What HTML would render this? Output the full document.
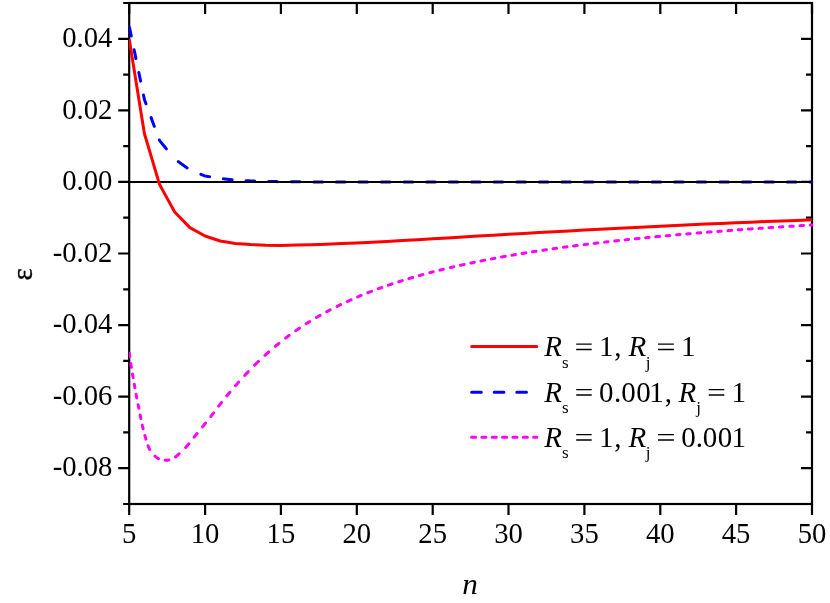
<!DOCTYPE html>
<html><head><meta charset="utf-8"><title>chart</title>
<style>
html,body{margin:0;padding:0;background:#fff;}
body{width:830px;height:603px;overflow:hidden;}
svg{display:block;will-change:transform;}
text{font-family:"Liberation Serif",serif;font-size:28.7px;fill:#000;}
</style></head><body>
<svg width="830" height="603" viewBox="0 0 830 603">
<rect width="830" height="603" fill="#fff"/>
<clipPath id="c"><rect x="128.89999999999998" y="3.0" width="684.3" height="501.0"/></clipPath>
<rect x="129.2" y="3.0" width="682.8" height="501.0" fill="none" stroke="#000" stroke-width="2.2"/>
<path d="M129.2,3.0 v11 M129.2,504.0 v11 M205.1,3.0 v11 M205.1,504.0 v11 M280.9,3.0 v11 M280.9,504.0 v11 M356.8,3.0 v11 M356.8,504.0 v11 M432.7,3.0 v11 M432.7,504.0 v11 M508.5,3.0 v11 M508.5,504.0 v11 M584.4,3.0 v11 M584.4,504.0 v11 M660.3,3.0 v11 M660.3,504.0 v11 M736.1,3.0 v11 M736.1,504.0 v11 M812.0,3.0 v11 M812.0,504.0 v11 M129.2,3.0 h-6 M812.0,3.0 h-6 M129.2,38.8 h-11 M812.0,38.8 h-11 M129.2,74.6 h-6 M812.0,74.6 h-6 M129.2,110.4 h-11 M812.0,110.4 h-11 M129.2,146.1 h-6 M812.0,146.1 h-6 M129.2,181.9 h-11 M812.0,181.9 h-11 M129.2,217.7 h-6 M812.0,217.7 h-6 M129.2,253.5 h-11 M812.0,253.5 h-11 M129.2,289.3 h-6 M812.0,289.3 h-6 M129.2,325.1 h-11 M812.0,325.1 h-11 M129.2,360.9 h-6 M812.0,360.9 h-6 M129.2,396.6 h-11 M812.0,396.6 h-11 M129.2,432.4 h-6 M812.0,432.4 h-6 M129.2,468.2 h-11 M812.0,468.2 h-11 M129.2,504.0 h-6 M812.0,504.0 h-6" stroke="#000" stroke-width="2.2" fill="none"/>
<g clip-path="url(#c)">
<path d="M129.45,27.23 L129.50,27.47 L129.71,28.45 L129.91,29.43 L130.11,30.41 L130.31,31.39 L130.52,32.37 L130.72,33.35 L130.92,34.33 L131.13,35.31 L131.28,36.05 M134.11,49.77 L134.17,50.01 L134.37,50.99 L134.57,51.97 L134.77,52.95 L134.98,53.93 L135.18,54.91 L135.38,55.89 L135.58,56.87 L135.79,57.85 L135.94,58.59 M138.83,72.55 L138.88,72.80 L139.08,73.78 L139.28,74.75 L139.49,75.73 L139.69,76.72 L139.89,77.69 L140.09,78.67 L140.30,79.66 L140.50,80.63 L140.60,81.12 M143.49,95.09 L143.54,95.33 L143.74,96.31 L143.94,97.30 L144.15,98.28 L144.35,99.25 L144.66,100.21 L145.01,101.15 L145.35,102.09 L145.70,103.03 L145.96,103.74 M151.08,117.64 L151.17,117.88 L151.52,118.82 L151.86,119.76 L152.21,120.71 L152.56,121.65 L152.90,122.59 L153.25,123.53 L153.60,124.48 L153.95,125.42 L154.29,126.36 M159.33,140.03 L159.41,140.26 L159.98,141.08 L160.62,141.86 L161.26,142.64 L161.90,143.42 L162.54,144.20 L163.18,144.98 L163.82,145.76 L164.46,146.54 L165.10,147.32 L165.74,148.09 L166.38,148.87 M178.35,161.64 L178.55,161.79 L179.36,162.37 L180.17,162.96 L180.98,163.55 L181.79,164.13 L182.60,164.72 L183.41,165.31 L184.23,165.89 L185.04,166.48 L185.85,167.07 L186.66,167.65 L187.06,167.95 M200.89,174.34 L201.12,174.43 L202.06,174.80 L203.00,175.17 L203.93,175.54 L204.87,175.91 L205.84,176.12 L206.83,176.29 L207.82,176.45 L208.81,176.61 L209.56,176.74 M223.44,178.84 L223.69,178.87 L224.69,178.97 L225.68,179.08 L226.68,179.18 L227.68,179.29 L228.67,179.39 L229.67,179.50 L230.67,179.60 L231.66,179.71 L232.16,179.76 M246.04,180.66 L246.29,180.67 L247.31,180.73 L248.32,180.78 L249.33,180.83 L250.35,180.89 L251.36,180.93 L252.37,180.96 L253.39,180.99 L254.40,181.03 L254.65,181.03 M268.57,181.46 L268.82,181.46 L269.83,181.48 L270.83,181.50 L271.84,181.52 L272.85,181.54 L273.85,181.56 L274.86,181.58 L275.87,181.60 L276.87,181.62 L277.38,181.63 M291.18,181.77 L291.44,181.77 L292.44,181.78 L293.44,181.78 L294.44,181.79 L295.45,181.80 L296.45,181.80 L297.45,181.81 L298.46,181.82 L299.46,181.82 L299.96,181.83 M313.75,181.90 L314.00,181.90 L315.00,181.90 L316.00,181.90 L317.00,181.90 L318.00,181.90 L319.00,181.91 L320.00,181.91 L321.00,181.91 L322.00,181.91 L322.50,181.91 M336.25,181.92 L336.50,181.92 L337.50,181.92 L338.50,181.92 L339.50,181.92 L340.50,181.92 L341.50,181.92 L342.50,181.92 L343.50,181.92 L344.50,181.92 L345.00,181.92 M358.75,181.93 L359.00,181.93 L360.00,181.93 L361.00,181.93 L362.00,181.93 L363.00,181.93 L364.00,181.93 L365.00,181.93 L366.00,181.93 L367.00,181.93 L367.50,181.93 M381.25,181.93 L381.50,181.93 L382.50,181.93 L383.50,181.93 L384.50,181.93 L385.50,181.93 L386.50,181.93 L387.50,181.93 L388.50,181.93 L389.50,181.93 L390.00,181.93 M404.00,181.93 L404.25,181.93 L405.25,181.93 L406.25,181.93 L407.25,181.93 L408.25,181.93 L409.25,181.93 L410.25,181.93 L411.25,181.93 L412.25,181.93 L412.75,181.93 M426.50,181.93 L426.75,181.93 L427.75,181.93 L428.75,181.93 L429.75,181.93 L430.75,181.93 L431.75,181.93 L432.75,181.93 L433.75,181.93 L434.75,181.93 L435.25,181.93 M449.00,181.93 L449.25,181.93 L450.25,181.93 L451.25,181.93 L452.25,181.93 L453.25,181.93 L454.25,181.93 L455.25,181.93 L456.25,181.93 L457.25,181.93 L457.75,181.93 M471.50,181.93 L471.75,181.93 L472.75,181.93 L473.75,181.93 L474.75,181.93 L475.75,181.93 L476.75,181.93 L477.75,181.93 L478.75,181.93 L479.75,181.93 L480.25,181.93 M494.00,181.93 L494.25,181.93 L495.25,181.93 L496.25,181.93 L497.25,181.93 L498.25,181.93 L499.25,181.93 L500.25,181.93 L501.25,181.93 L502.25,181.93 L502.75,181.93 M516.75,181.93 L517.00,181.93 L518.00,181.93 L519.00,181.93 L520.00,181.93 L521.00,181.93 L522.00,181.93 L523.00,181.93 L524.00,181.93 L525.00,181.93 L525.50,181.93 M539.25,181.93 L539.50,181.93 L540.50,181.93 L541.50,181.93 L542.50,181.93 L543.50,181.93 L544.50,181.93 L545.50,181.93 L546.50,181.93 L547.50,181.93 L548.00,181.93 M561.75,181.93 L562.00,181.93 L563.00,181.93 L564.00,181.93 L565.00,181.93 L566.00,181.93 L567.00,181.93 L568.00,181.93 L569.00,181.93 L570.00,181.93 L570.50,181.93 M584.25,181.93 L584.50,181.93 L585.50,181.93 L586.50,181.93 L587.50,181.93 L588.50,181.93 L589.50,181.93 L590.50,181.93 L591.50,181.93 L592.50,181.93 L593.00,181.93 M607.00,181.93 L607.25,181.93 L608.25,181.93 L609.25,181.93 L610.25,181.93 L611.25,181.93 L612.25,181.93 L613.25,181.93 L614.25,181.93 L615.25,181.93 L615.75,181.93 M629.50,181.93 L629.75,181.93 L630.75,181.93 L631.75,181.93 L632.75,181.93 L633.75,181.93 L634.75,181.93 L635.75,181.93 L636.75,181.93 L637.75,181.93 L638.25,181.93 M652.00,181.93 L652.25,181.93 L653.25,181.93 L654.25,181.93 L655.25,181.93 L656.25,181.93 L657.25,181.93 L658.25,181.93 L659.25,181.93 L660.25,181.93 L660.75,181.93 M674.50,181.93 L674.75,181.93 L675.75,181.93 L676.75,181.93 L677.75,181.93 L678.75,181.93 L679.75,181.93 L680.75,181.93 L681.75,181.93 L682.75,181.93 L683.25,181.93 M697.00,181.93 L697.25,181.93 L698.25,181.93 L699.25,181.93 L700.25,181.93 L701.25,181.93 L702.25,181.93 L703.25,181.93 L704.25,181.93 L705.25,181.93 L705.75,181.93 M719.75,181.93 L720.00,181.93 L721.00,181.93 L722.00,181.93 L723.00,181.93 L724.00,181.93 L725.00,181.93 L726.00,181.93 L727.00,181.93 L728.00,181.93 L728.50,181.93 M742.25,181.93 L742.50,181.93 L743.50,181.93 L744.50,181.93 L745.50,181.93 L746.50,181.93 L747.50,181.93 L748.50,181.93 L749.50,181.93 L750.50,181.93 L751.00,181.93 M764.75,181.93 L765.00,181.93 L766.00,181.93 L767.00,181.93 L768.00,181.93 L769.00,181.93 L770.00,181.93 L771.00,181.93 L772.00,181.93 L773.00,181.93 L773.50,181.93 M787.25,181.93 L787.50,181.93 L788.50,181.93 L789.50,181.93 L790.50,181.93 L791.50,181.93 L792.50,181.93 L793.50,181.93 L794.50,181.93 L795.50,181.93 L796.00,181.93 M810.00,181.93 L810.25,181.93 L811.25,181.93 L812.00,181.93 " fill="none" stroke="#0000ff" stroke-width="3" stroke-linecap="round" stroke-linejoin="round"/>
</g>
<path d="M129.2,181.9 H812.0" stroke="#000" stroke-width="2" fill="none"/>
<g clip-path="url(#c)">
<path d="M129.35,353.14 L129.39,353.40 L129.54,354.57 L129.68,355.61 L129.83,356.74 M130.78,363.54 L130.82,363.84 L131.00,365.00 L131.18,366.13 L131.36,367.26 M132.51,373.93 L132.56,374.22 L132.77,375.41 L132.98,376.60 L133.14,377.50 M134.28,384.18 L134.32,384.43 L134.49,385.43 L134.66,386.44 L134.84,387.45 L134.88,387.70 M136.05,394.25 L136.09,394.50 L136.28,395.50 L136.48,396.50 L136.67,397.50 L136.77,398.00 M138.14,404.75 L138.19,405.00 L138.39,406.00 L138.60,407.00 L138.80,408.00 L138.85,408.25 M140.17,415.05 L140.22,415.30 L140.41,416.31 L140.61,417.32 L140.81,418.32 L140.86,418.57 M142.28,425.21 L142.35,425.51 L142.63,426.72 L142.91,427.92 L143.13,428.81 M144.87,435.51 L144.95,435.79 L145.27,436.91 L145.60,438.00 L145.93,439.09 M148.11,445.70 L148.20,445.95 L148.58,446.92 L149.03,448.01 L149.57,449.18 L149.72,449.45 M155.04,456.16 L155.28,456.38 L156.22,457.18 L157.10,457.82 L158.53,458.59 M165.20,460.18 L165.67,460.20 L167.51,460.14 L168.86,459.96 M175.52,456.94 L175.75,456.76 L176.80,455.91 L177.62,455.21 L178.54,454.39 L179.16,453.82 M185.64,447.46 L185.84,447.25 L186.62,446.41 L187.36,445.60 L188.07,444.79 L188.75,443.97 L188.92,443.77 M194.13,437.09 L194.30,436.87 L195.00,436.00 L195.72,435.12 L196.45,434.21 L197.02,433.53 M202.55,426.79 L202.73,426.56 L203.46,425.66 L204.18,424.78 L204.87,423.92 L205.56,423.07 M210.84,416.48 L211.01,416.27 L211.67,415.43 L212.33,414.57 L213.00,413.70 L213.67,412.82 M218.67,406.14 L218.83,405.92 L219.50,405.05 L220.17,404.19 L220.83,403.34 L221.49,402.49 M226.78,395.87 L226.96,395.66 L227.65,394.82 L228.36,393.97 L229.08,393.11 L229.82,392.24 M235.51,385.69 L235.69,385.49 L236.41,384.68 L237.10,383.89 L237.78,383.12 L238.49,382.31 L238.71,382.07 M244.73,375.42 L244.94,375.19 L245.78,374.29 L246.62,373.39 L247.47,372.50 L248.31,371.61 M254.63,365.15 L254.84,364.94 L255.69,364.11 L256.53,363.28 L257.37,362.46 L258.22,361.64 L258.43,361.44 M264.96,355.32 L265.17,355.13 L266.01,354.36 L266.86,353.60 L267.70,352.85 L268.54,352.10 L268.75,351.92 M275.29,346.32 L275.50,346.15 L276.34,345.45 L277.18,344.76 L278.03,344.07 L278.87,343.39 M285.61,338.11 L285.82,337.95 L286.67,337.31 L287.51,336.68 L288.35,336.05 L289.19,335.42 M295.73,330.74 L295.94,330.60 L296.78,330.01 L297.62,329.43 L298.47,328.86 L299.31,328.28 L299.52,328.14 M306.16,323.79 L306.48,323.59 L307.74,322.79 L309.00,322.00 L309.64,321.60 M316.59,317.42 L316.91,317.24 L318.17,316.50 L319.44,315.78 L320.07,315.42 M326.71,311.74 L327.02,311.57 L328.29,310.90 L329.55,310.23 L330.18,309.90 M337.14,306.35 L337.45,306.19 L338.72,305.57 L339.98,304.95 L340.62,304.65 M347.25,301.52 L347.57,301.38 L348.83,300.80 L350.10,300.23 L351.05,299.80 M357.69,296.91 L358.00,296.78 L359.27,296.24 L360.53,295.71 L361.16,295.45 M367.80,292.76 L368.12,292.64 L369.38,292.14 L370.65,291.65 L371.59,291.29 M378.23,288.79 L378.55,288.67 L379.81,288.21 L381.08,287.75 L381.71,287.53 M388.35,285.20 L388.66,285.09 L389.93,284.66 L391.19,284.23 L392.14,283.91 M398.78,281.74 L399.10,281.63 L400.36,281.23 L401.62,280.83 L402.26,280.63 M408.90,278.60 L409.21,278.50 L410.48,278.12 L411.74,277.75 L412.69,277.47 M419.33,275.56 L419.64,275.47 L420.91,275.12 L422.17,274.76 L422.80,274.59 M429.76,272.71 L430.07,272.63 L431.34,272.29 L432.60,271.96 L433.24,271.80 M439.87,270.11 L440.19,270.03 L441.45,269.71 L442.72,269.40 L443.35,269.25 M450.31,267.58 L450.62,267.50 L451.89,267.21 L453.15,266.91 L453.78,266.77 M460.42,265.26 L460.74,265.19 L462.00,264.91 L463.27,264.63 L464.21,264.43 M470.85,263.00 L471.17,262.94 L472.43,262.67 L473.70,262.41 L474.33,262.28 M480.97,260.93 L481.28,260.86 L482.55,260.61 L483.81,260.36 L484.76,260.18 M491.40,258.90 L491.72,258.84 L492.98,258.60 L494.25,258.36 L494.88,258.24 M501.52,257.03 L501.83,256.97 L503.10,256.74 L504.36,256.52 L505.31,256.35 M511.95,255.19 L512.26,255.14 L513.53,254.92 L514.79,254.71 L515.42,254.60 M522.06,253.50 L522.38,253.44 L523.64,253.24 L524.91,253.03 L525.86,252.88 M532.49,251.83 L532.81,251.78 L534.08,251.58 L535.34,251.39 L535.97,251.29 M542.93,250.24 L543.24,250.19 L544.51,250.00 L545.77,249.82 L546.40,249.72 M553.04,248.76 L553.36,248.72 L554.62,248.54 L555.89,248.36 L556.52,248.27 M563.47,247.31 L563.79,247.27 L565.05,247.10 L566.32,246.92 L566.95,246.84 M573.59,245.96 L573.91,245.92 L575.17,245.75 L576.43,245.59 L577.07,245.51 M584.02,244.62 L584.34,244.58 L585.60,244.43 L586.87,244.27 L587.50,244.19 M594.14,243.38 L594.45,243.34 L595.72,243.19 L596.98,243.04 L597.93,242.93 M604.57,242.15 L604.88,242.12 L606.15,241.97 L607.41,241.82 L608.05,241.75 M614.68,241.00 L615.00,240.97 L616.26,240.83 L617.53,240.69 L618.48,240.59 M625.12,239.87 L625.43,239.83 L626.70,239.70 L627.96,239.56 L628.59,239.50 M635.23,238.81 L635.55,238.77 L636.81,238.64 L638.08,238.51 L639.02,238.42 M645.66,237.75 L645.98,237.72 L647.24,237.59 L648.51,237.47 L649.14,237.41 M655.78,236.76 L656.09,236.73 L657.36,236.61 L658.62,236.49 L659.57,236.40 M666.21,235.78 L666.53,235.75 L667.79,235.64 L669.05,235.52 L669.69,235.46 M676.64,234.83 L676.96,234.81 L678.22,234.69 L679.49,234.58 L680.12,234.53 M686.76,233.95 L687.07,233.92 L688.34,233.81 L689.60,233.70 L690.23,233.65 M697.19,233.06 L697.50,233.04 L698.77,232.93 L700.03,232.83 L700.67,232.77 M707.30,232.23 L707.62,232.21 L708.88,232.11 L710.15,232.00 L711.10,231.93 M717.74,231.40 L718.05,231.38 L719.32,231.28 L720.58,231.18 L721.21,231.13 M727.85,230.63 L728.17,230.60 L729.43,230.51 L730.70,230.41 L731.64,230.34 M738.28,229.85 L738.60,229.83 L739.86,229.73 L741.13,229.64 L741.76,229.60 M748.40,229.12 L748.71,229.10 L749.98,229.01 L751.24,228.92 L752.19,228.85 M758.83,228.39 L759.15,228.37 L760.41,228.28 L761.68,228.19 L762.31,228.15 M768.95,227.70 L769.26,227.68 L770.53,227.60 L771.79,227.51 L772.74,227.45 M779.38,227.01 L779.69,226.99 L780.96,226.91 L782.22,226.83 L782.85,226.79 M789.81,226.34 L790.13,226.32 L791.39,226.24 L792.65,226.17 L793.29,226.13 M799.95,225.71 L800.28,225.69 L801.58,225.61 L802.88,225.53 L803.51,225.50 M810.23,225.09 L810.48,225.08 L812.00,224.99 " fill="none" stroke="#ff00ff" stroke-width="3" stroke-linecap="round" stroke-linejoin="round"/>
<path d="M129.2,39.0 L144.4,133.5 L159.5,184.4 L174.7,212.0 L189.9,227.6 L205.1,236.0 L220.2,241.0 L235.4,243.4 L250.6,244.6 L265.8,245.2 L280.9,245.4 L280.9,245.4 L296.1,245.1 L311.3,244.7 L326.5,244.2 L341.6,243.6 L356.8,242.9 L372.0,242.2 L387.1,241.4 L402.3,240.5 L417.5,239.7 L432.7,238.8 L447.8,237.9 L463.0,237.0 L478.2,236.1 L493.4,235.2 L508.5,234.3 L523.7,233.4 L538.9,232.6 L554.1,231.7 L569.2,230.9 L584.4,230.1 L599.6,229.3 L614.7,228.5 L629.9,227.7 L645.1,226.9 L660.3,226.2 L675.4,225.5 L690.6,224.8 L705.8,224.1 L721.0,223.4 L736.1,222.8 L751.3,222.2 L766.5,221.5 L781.7,220.9 L796.8,220.4 L812.0,219.8" fill="none" stroke="#ff0000" stroke-width="3" stroke-linejoin="round"/>
</g>
<text transform="translate(112.4,46.9) scale(1,1.035)" text-anchor="end">0.04</text>
<text transform="translate(112.4,118.5) scale(1,1.035)" text-anchor="end">0.02</text>
<text transform="translate(112.4,190.0) scale(1,1.035)" text-anchor="end">0.00</text>
<text transform="translate(112.4,261.6) scale(1,1.035)" text-anchor="end">-0.02</text>
<text transform="translate(112.4,333.2) scale(1,1.035)" text-anchor="end">-0.04</text>
<text transform="translate(112.4,404.7) scale(1,1.035)" text-anchor="end">-0.06</text>
<text transform="translate(112.4,476.3) scale(1,1.035)" text-anchor="end">-0.08</text>

<text transform="translate(129.2,542.9) scale(1,1.035)" text-anchor="middle">5</text>
<text transform="translate(205.1,542.9) scale(1,1.035)" text-anchor="middle">10</text>
<text transform="translate(280.9,542.9) scale(1,1.035)" text-anchor="middle">15</text>
<text transform="translate(356.8,542.9) scale(1,1.035)" text-anchor="middle">20</text>
<text transform="translate(432.7,542.9) scale(1,1.035)" text-anchor="middle">25</text>
<text transform="translate(508.5,542.9) scale(1,1.035)" text-anchor="middle">30</text>
<text transform="translate(584.4,542.9) scale(1,1.035)" text-anchor="middle">35</text>
<text transform="translate(660.3,542.9) scale(1,1.035)" text-anchor="middle">40</text>
<text transform="translate(736.1,542.9) scale(1,1.035)" text-anchor="middle">45</text>
<text transform="translate(812.0,542.9) scale(1,1.035)" text-anchor="middle">50</text>

<text transform="translate(462.2,593.7) scale(1.04,1)" style="font-size:30px;font-style:italic">n</text>
<text x="0" y="0" transform="translate(32,280.4) rotate(-90)" style="font-size:29px;stroke:#000;stroke-width:0.4px">ε</text>
<path d="M471.7,346.6 H536.7" stroke="#ff0000" stroke-width="3" stroke-linecap="round"/>
<path d="M471.6,392.2 h9.7 m12.9,0 h9.7 m12.9,0 h9.7" stroke="#0000ff" stroke-width="3" stroke-linecap="round"/>
<path d="M471.5,437.2 h4.1 m6.25,0 h4.1 m6.25,0 h4.1 m6.25,0 h4.1 m6.25,0 h4.1 m6.25,0 h4.1 m6.25,0 h3.2" stroke="#ff00ff" stroke-width="3" stroke-linecap="round"/>
<text transform="translate(544.16,356.2) scale(1,1.035)" style="font-size:29.0px;font-style:italic;">R</text><text transform="translate(561.90,367.6) scale(1,1.035)" style="font-size:17.0px;">s</text><path d="M576.2,344.1 H591.7 M576.2,349.5 H591.7" stroke="#000" stroke-width="1.45" fill="none"/><text transform="translate(598.90,356.2) scale(1,1.035)" style="font-size:29.0px;">1</text><text transform="translate(614.34,356.2) scale(1,1.035)" style="font-size:29.0px;">,</text><text transform="translate(628.46,356.2) scale(1,1.035)" style="font-size:29.0px;font-style:italic;">R</text><text transform="translate(645.81,367.6) scale(1,1.035)" style="font-size:17.0px;">j</text><path d="M658.0,344.1 H673.9 M658.0,349.5 H673.9" stroke="#000" stroke-width="1.45" fill="none"/><text transform="translate(680.95,356.2) scale(1,1.035)" style="font-size:29.0px;">1</text>
<text transform="translate(544.16,401.7) scale(1,1.035)" style="font-size:29.0px;font-style:italic;">R</text><text transform="translate(561.90,413.1) scale(1,1.035)" style="font-size:17.0px;">s</text><path d="M576.2,389.6 H591.7 M576.2,395.0 H591.7" stroke="#000" stroke-width="1.45" fill="none"/><text transform="translate(599.10,401.7) scale(1,1.035)" style="font-size:29.0px;">0</text><text transform="translate(614.08,401.7) scale(1,1.035)" style="font-size:29.0px;">.</text><text transform="translate(621.15,401.7) scale(1,1.035)" style="font-size:29.0px;">0</text><text transform="translate(636.30,401.7) scale(1,1.035)" style="font-size:29.0px;">0</text><text transform="translate(649.35,401.7) scale(1,1.035)" style="font-size:29.0px;">1</text><text transform="translate(664.69,401.7) scale(1,1.035)" style="font-size:29.0px;">,</text><text transform="translate(678.56,401.7) scale(1,1.035)" style="font-size:29.0px;font-style:italic;">R</text><text transform="translate(696.21,413.1) scale(1,1.035)" style="font-size:17.0px;">j</text><path d="M708.7,389.6 H724.3 M708.7,395.0 H724.3" stroke="#000" stroke-width="1.45" fill="none"/><text transform="translate(731.50,401.7) scale(1,1.035)" style="font-size:29.0px;">1</text>
<text transform="translate(544.16,446.7) scale(1,1.035)" style="font-size:29.0px;font-style:italic;">R</text><text transform="translate(561.90,458.1) scale(1,1.035)" style="font-size:17.0px;">s</text><path d="M576.2,434.6 H591.7 M576.2,440.0 H591.7" stroke="#000" stroke-width="1.45" fill="none"/><text transform="translate(598.90,446.7) scale(1,1.035)" style="font-size:29.0px;">1</text><text transform="translate(614.34,446.7) scale(1,1.035)" style="font-size:29.0px;">,</text><text transform="translate(628.46,446.7) scale(1,1.035)" style="font-size:29.0px;font-style:italic;">R</text><text transform="translate(645.81,458.1) scale(1,1.035)" style="font-size:17.0px;">j</text><path d="M658.0,434.6 H673.9 M658.0,440.0 H673.9" stroke="#000" stroke-width="1.45" fill="none"/><text transform="translate(681.15,446.7) scale(1,1.035)" style="font-size:29.0px;">0</text><text transform="translate(695.83,446.7) scale(1,1.035)" style="font-size:29.0px;">.</text><text transform="translate(702.65,446.7) scale(1,1.035)" style="font-size:29.0px;">0</text><text transform="translate(717.85,446.7) scale(1,1.035)" style="font-size:29.0px;">0</text><text transform="translate(731.50,446.7) scale(1,1.035)" style="font-size:29.0px;">1</text>

</svg>
</body></html>
